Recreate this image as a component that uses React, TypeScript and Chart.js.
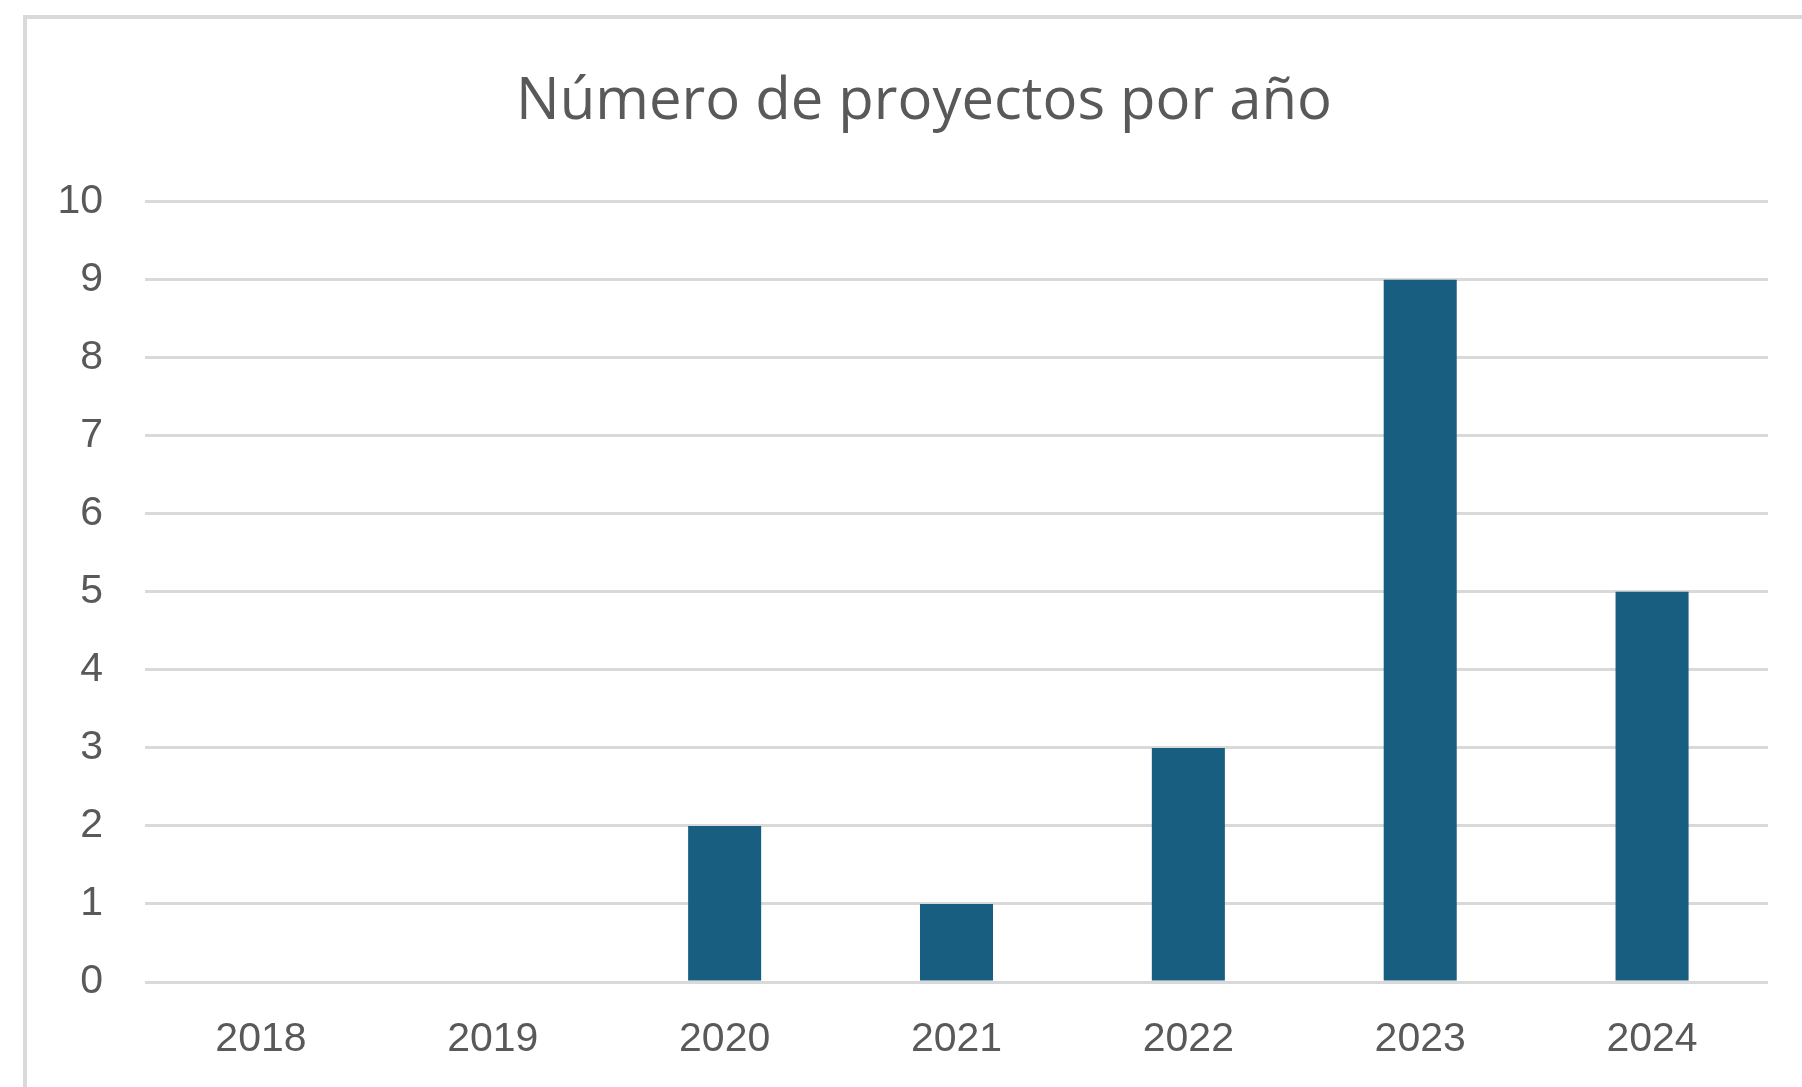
import React, { useEffect, useRef } from "react";
import { Chart, registerables } from "chart.js";

Chart.register(...registerables);

const TITLE = "Número de proyectos por año";
const YEARS = ["2018", "2019", "2020", "2021", "2022", "2023", "2024"];
const PROJECTS = [0, 0, 2, 1, 3, 9, 5];
const Y_MIN = 0;
const Y_MAX = 10;
const Y_STEP = 1;

const BAR_COLOR = "#175e80";
const GRID_COLOR = "#d9d9d9";
const TEXT_COLOR = "#595959";

// Centre the title over the framed box rather than over the canvas.
const titleShift = {
  id: "titleShift",
  afterLayout(chart: any) {
    if (chart.titleBlock) {
      chart.titleBlock.left = 80;
    }
  },
};

export default function App() {
  const canvasRef = useRef<HTMLCanvasElement | null>(null);

  useEffect(() => {
    const canvas = canvasRef.current;
    if (!canvas) return;
    const chart = new Chart(canvas, {
      type: "bar",
      data: {
        labels: YEARS,
        datasets: [
          {
            label: TITLE,
            data: PROJECTS,
            backgroundColor: BAR_COLOR,
            borderWidth: 0,
            categoryPercentage: 1,
            barPercentage: 0.315,
          },
        ],
      },
      options: {
        animation: false,
        responsive: false,
        maintainAspectRatio: false,
        devicePixelRatio: 1,
        layout: { padding: { left: 0, right: 34, top: 0, bottom: 26 } },
        plugins: {
          legend: { display: false },
          tooltip: { enabled: false },
          title: {
            display: true,
            text: TITLE,
            color: TEXT_COLOR,
            font: { family: "'Open Sans', Lato, sans-serif", size: 58, weight: "normal", lineHeight: 1.2 },
            padding: { top: 68, bottom: 64 },
          },
        },
        scales: {
          x: {
            grid: { display: false, drawTicks: false },
            border: { display: false },
            ticks: {
              color: TEXT_COLOR,
              font: { family: "'Liberation Sans', Arial, sans-serif", size: 41, lineHeight: 1.2 },
              padding: 33,
              maxRotation: 0,
            },
            afterFit: (scale: any) => {
              scale.height = 79;
            },
          },
          y: {
            min: Y_MIN,
            max: Y_MAX,
            grid: { color: GRID_COLOR, lineWidth: 3, drawTicks: false },
            border: { display: false },
            ticks: {
              stepSize: Y_STEP,
              color: TEXT_COLOR,
              font: { family: "'Liberation Sans', Arial, sans-serif", size: 41, lineHeight: 1.2 },
              padding: 42,
            },
            afterFit: (scale: any) => {
              scale.width = 145;
            },
          },
        },
      },
      plugins: [titleShift],
    });
    return () => chart.destroy();
  }, []);

  return (
    <div
      style={{
        position: "fixed",
        left: 0,
        top: 0,
        width: 1802,
        height: 1087,
        overflow: "hidden",
        background: "#ffffff",
      }}
    >
      <div
        style={{
          position: "absolute",
          left: 23,
          top: 15,
          width: 1900,
          height: 1200,
          borderLeft: `4px solid ${GRID_COLOR}`,
          borderTop: `4px solid ${GRID_COLOR}`,
        }}
      />
      <canvas
        ref={canvasRef}
        width={1802}
        height={1087}
        style={{ position: "absolute", left: 0, top: 0, width: 1802, height: 1087 }}
      />
    </div>
  );
}
